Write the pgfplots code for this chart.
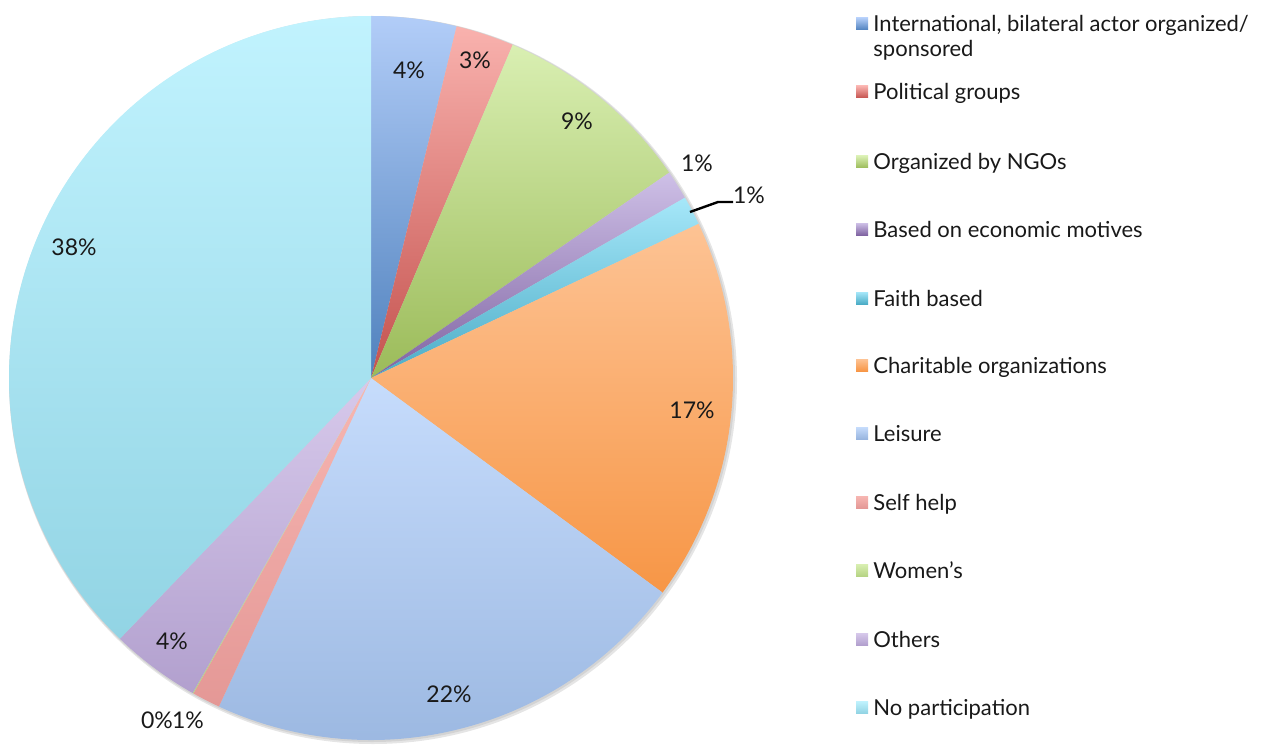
\documentclass[border=0pt]{standalone}
\usepackage{pgfplots}
\usepackage{pgfplotstable}
\pgfplotsset{compat=1.18}
\usepackage{fontspec}
\setmainfont{Lato}

\definecolor{t0}{RGB}{178,205,248}\definecolor{b0}{RGB}{79,129,189}
\definecolor{t1}{RGB}{249,178,174}\definecolor{b1}{RGB}{196,82,78}
\definecolor{t2}{RGB}{217,239,178}\definecolor{b2}{RGB}{155,187,89}
\definecolor{t3}{RGB}{206,192,231}\definecolor{b3}{RGB}{128,100,162}
\definecolor{t4}{RGB}{166,231,249}\definecolor{b4}{RGB}{75,172,198}
\definecolor{t5}{RGB}{253,195,148}\definecolor{b5}{RGB}{247,150,70}
\definecolor{t6}{RGB}{198,220,252}\definecolor{b6}{RGB}{152,181,223}
\definecolor{t7}{RGB}{247,182,178}\definecolor{b7}{RGB}{228,152,150}
\definecolor{t8}{RGB}{217,239,178}\definecolor{b8}{RGB}{182,212,132}
\definecolor{t9}{RGB}{215,201,235}\definecolor{b9}{RGB}{178,160,206}
\definecolor{t10}{RGB}{193,243,254}\definecolor{b10}{RGB}{146,212,228}

% value (%), shown label, label position (px, from top), legend baseline (px, from top), name
\pgfplotstableread[col sep=semicolon]{
value;label;lx;ly;lgy;name
3.8;4;409;70;32;{International, bilateral actor organized/\\sponsored}
2.6;3;475;60;100;Political groups
9.0;9;577;121;170;Organized by NGOs
1.3;1;697;163;237;Based on economic motives
1.3;1;749;195;306;Faith based
17.1;17;692;410;373;Charitable organizations
21.8;22;449;694;441;Leisure
1.26;1;188;720;510;Self help
0.04;0;157;720;578;Women's
4.0;4;172;641;647;Others
37.8;38;74;247;715;No participation
}\pietable

\begin{document}
\def\cum{0}%
\pgfplotsforeachungrouped \i in {0,...,10}{%
  \pgfplotstablegetelem{\i}{value}\of\pietable
  \pgfmathsetmacro\tmpA{90-3.6*\cum}%
  \pgfmathsetmacro\cumNew{\cum+\pgfplotsretval}%
  \let\cum\cumNew
  \pgfmathsetmacro\tmpB{90-3.6*\cum}%
  \expandafter\xdef\csname sa\i\endcsname{\tmpA}%
  \expandafter\xdef\csname sb\i\endcsname{\tmpB}%
  \pgfplotstablegetelem{\i}{label}\of\pietable
  \expandafter\xdef\csname lb\i\endcsname{\pgfplotsretval}%
  \pgfplotstablegetelem{\i}{lx}\of\pietable
  \expandafter\xdef\csname lx\i\endcsname{\pgfplotsretval}%
  \pgfplotstablegetelem{\i}{ly}\of\pietable
  \pgfmathsetmacro\tmpC{745-\pgfplotsretval}%
  \expandafter\xdef\csname ly\i\endcsname{\tmpC}%
  \pgfplotstablegetelem{\i}{lgy}\of\pietable
  \pgfmathsetmacro\tmpC{745-\pgfplotsretval}%
  \expandafter\xdef\csname lg\i\endcsname{\tmpC}%
  \pgfplotstablegetelem{\i}{name}\of\pietable
  \expandafter\global\expandafter\let\csname nm\i\endcsname\pgfplotsretval
}%
\begin{tikzpicture}
\begin{axis}[
  scale only axis, width=630.5pt, height=372.5pt,
  xmin=0, xmax=1261, ymin=0, ymax=745,
  hide axis, clip=false,
]
% soft shadow
\fill[black, opacity=0.10] (axis cs:373,365) circle[radius=182pt];
\fill[black, opacity=0.08] (axis cs:372,366) circle[radius=181.5pt];
% slices
\pgfplotsinvokeforeach{0,...,10}{%
  \shade[top color=t#1, bottom color=b#1]
    (axis cs:371,367) -- ++(\csname sa#1\endcsname:181pt)
    arc[start angle=\csname sa#1\endcsname, end angle=\csname sb#1\endcsname, radius=181pt] -- cycle;
}
% data labels
\pgfplotsinvokeforeach{0,...,10}{%
  \node[font=\fontsize{11.5pt}{13pt}\selectfont, inner sep=0pt, text=black!90]
    at (axis cs:\csname lx#1\endcsname,\csname ly#1\endcsname) {\csname lb#1\endcsname\%};
}
% leader line for Faith based
\draw[black, line width=1.2pt] (axis cs:690,533) -- (axis cs:718,543) -- (axis cs:733,543);
% legend
\pgfplotsinvokeforeach{0,...,10}{%
  \shade[top color=t#1, bottom color=b#1]
    (axis cs:856,{\csname lg#1\endcsname+2}) rectangle (axis cs:868,{\csname lg#1\endcsname+14});
  \node[anchor=base west, inner sep=0pt, font=\fontsize{11pt}{12.5pt}\selectfont, text=black!90]
    at (axis cs:873,\csname lg#1\endcsname)
    {\parbox[t]{220pt}{\raggedright\csname nm#1\endcsname}};
}
\end{axis}
\pgfresetboundingbox
\useasboundingbox (0,0) rectangle (630.5pt,372.5pt);
\end{tikzpicture}
\end{document}
